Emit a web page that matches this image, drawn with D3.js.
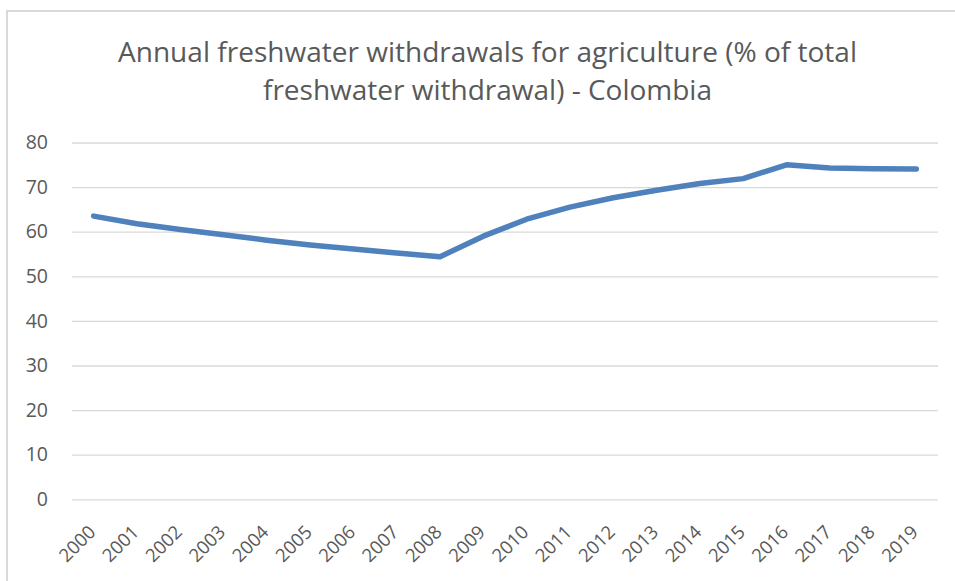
<!DOCTYPE html>
<html>
<head>
<meta charset="utf-8">
<script src="https://cdn.jsdelivr.net/npm/d3@7"></script>
<style>
  html, body { margin: 0; padding: 0; background: #fff; }
  svg { display: block; }
</style>
</head>
<body>
<svg id="chart" width="955" height="581"></svg>
<script>
// Colombia: agricultural share of total freshwater withdrawal, by year
const years = ["2000","2001","2002","2003","2004","2005","2006","2007","2008","2009",
               "2010","2011","2012","2013","2014","2015","2016","2017","2018","2019"];
const shares = [63.5, 61.8, 60.5, 59.3, 58.1, 57.0, 56.1, 55.2, 54.4, 59.0,
                62.8, 65.5, 67.6, 69.3, 70.8, 71.9, 75.0, 74.3, 74.1, 74.05];
const yTicks = [0, 10, 20, 30, 40, 50, 60, 70, 80];
const titleLines = ["Annual freshwater withdrawals for agriculture (% of total",
                    "freshwater withdrawal) - Colombia"];
const titleWidths = [739, 449];

const font = "'Open Sans', 'Noto Sans', sans-serif";
const svg = d3.select("#chart");

// frame: only the top and left edges show
svg.append("path")
  .attr("d", "M7,581V11H955")
  .attr("fill", "none").attr("stroke", "#d9d9d9").attr("stroke-width", 2);

const plot = { left: 72, right: 938, top: 142.5, bottom: 499.3 };

const x = d3.scaleBand().domain(years).range([plot.left, plot.right]);
const y = d3.scaleLinear().domain([0, 80]).range([plot.bottom, plot.top]);

// title
const title = svg.append("text")
  .attr("text-anchor", "middle")
  .attr("font-family", font)
  .attr("font-size", 26.5)
  .attr("fill", "#595959");
titleLines.forEach((t, i) => {
  title.append("tspan")
    .attr("x", 487.5).attr("y", 62 + i * 38)
    .attr("textLength", titleWidths[i])
    .attr("lengthAdjust", "spacingAndGlyphs")
    .text(t);
});

// horizontal gridlines + y labels
const yAxis = d3.axisLeft(y).tickValues(yTicks)
  .tickSize(-(plot.right - plot.left)).tickPadding(24);
const gy = svg.append("g")
  .attr("transform", `translate(${plot.left},0)`)
  .call(yAxis);
gy.select(".domain").remove();
gy.selectAll(".tick line").attr("stroke", "#d9d9d9").attr("stroke-width", 1.3);
gy.selectAll(".tick text")
  .attr("font-family", font).attr("font-size", 19.5).attr("fill", "#595959");

// x labels, rotated
const xAxis = d3.axisBottom(x).tickSize(0).tickPadding(0);
const gx = svg.append("g")
  .attr("transform", `translate(0,${plot.bottom})`)
  .call(xAxis);
gx.select(".domain").remove();
gx.selectAll(".tick text")
  .attr("font-family", font).attr("font-size", 18.5).attr("fill", "#595959")
  .attr("text-anchor", "end")
  .attr("dy", null)
  .attr("transform", "translate(3,34) rotate(-45)");

// the series line
const line = d3.line()
  .x((d, i) => x(years[i]) + x.bandwidth() / 2)
  .y(d => y(d));

svg.append("path")
  .datum(shares)
  .attr("d", line)
  .attr("fill", "none")
  .attr("stroke", "#4f81bd")
  .attr("stroke-width", 5.5)
  .attr("stroke-linecap", "round")
  .attr("stroke-linejoin", "round");
</script>
</body>
</html>
